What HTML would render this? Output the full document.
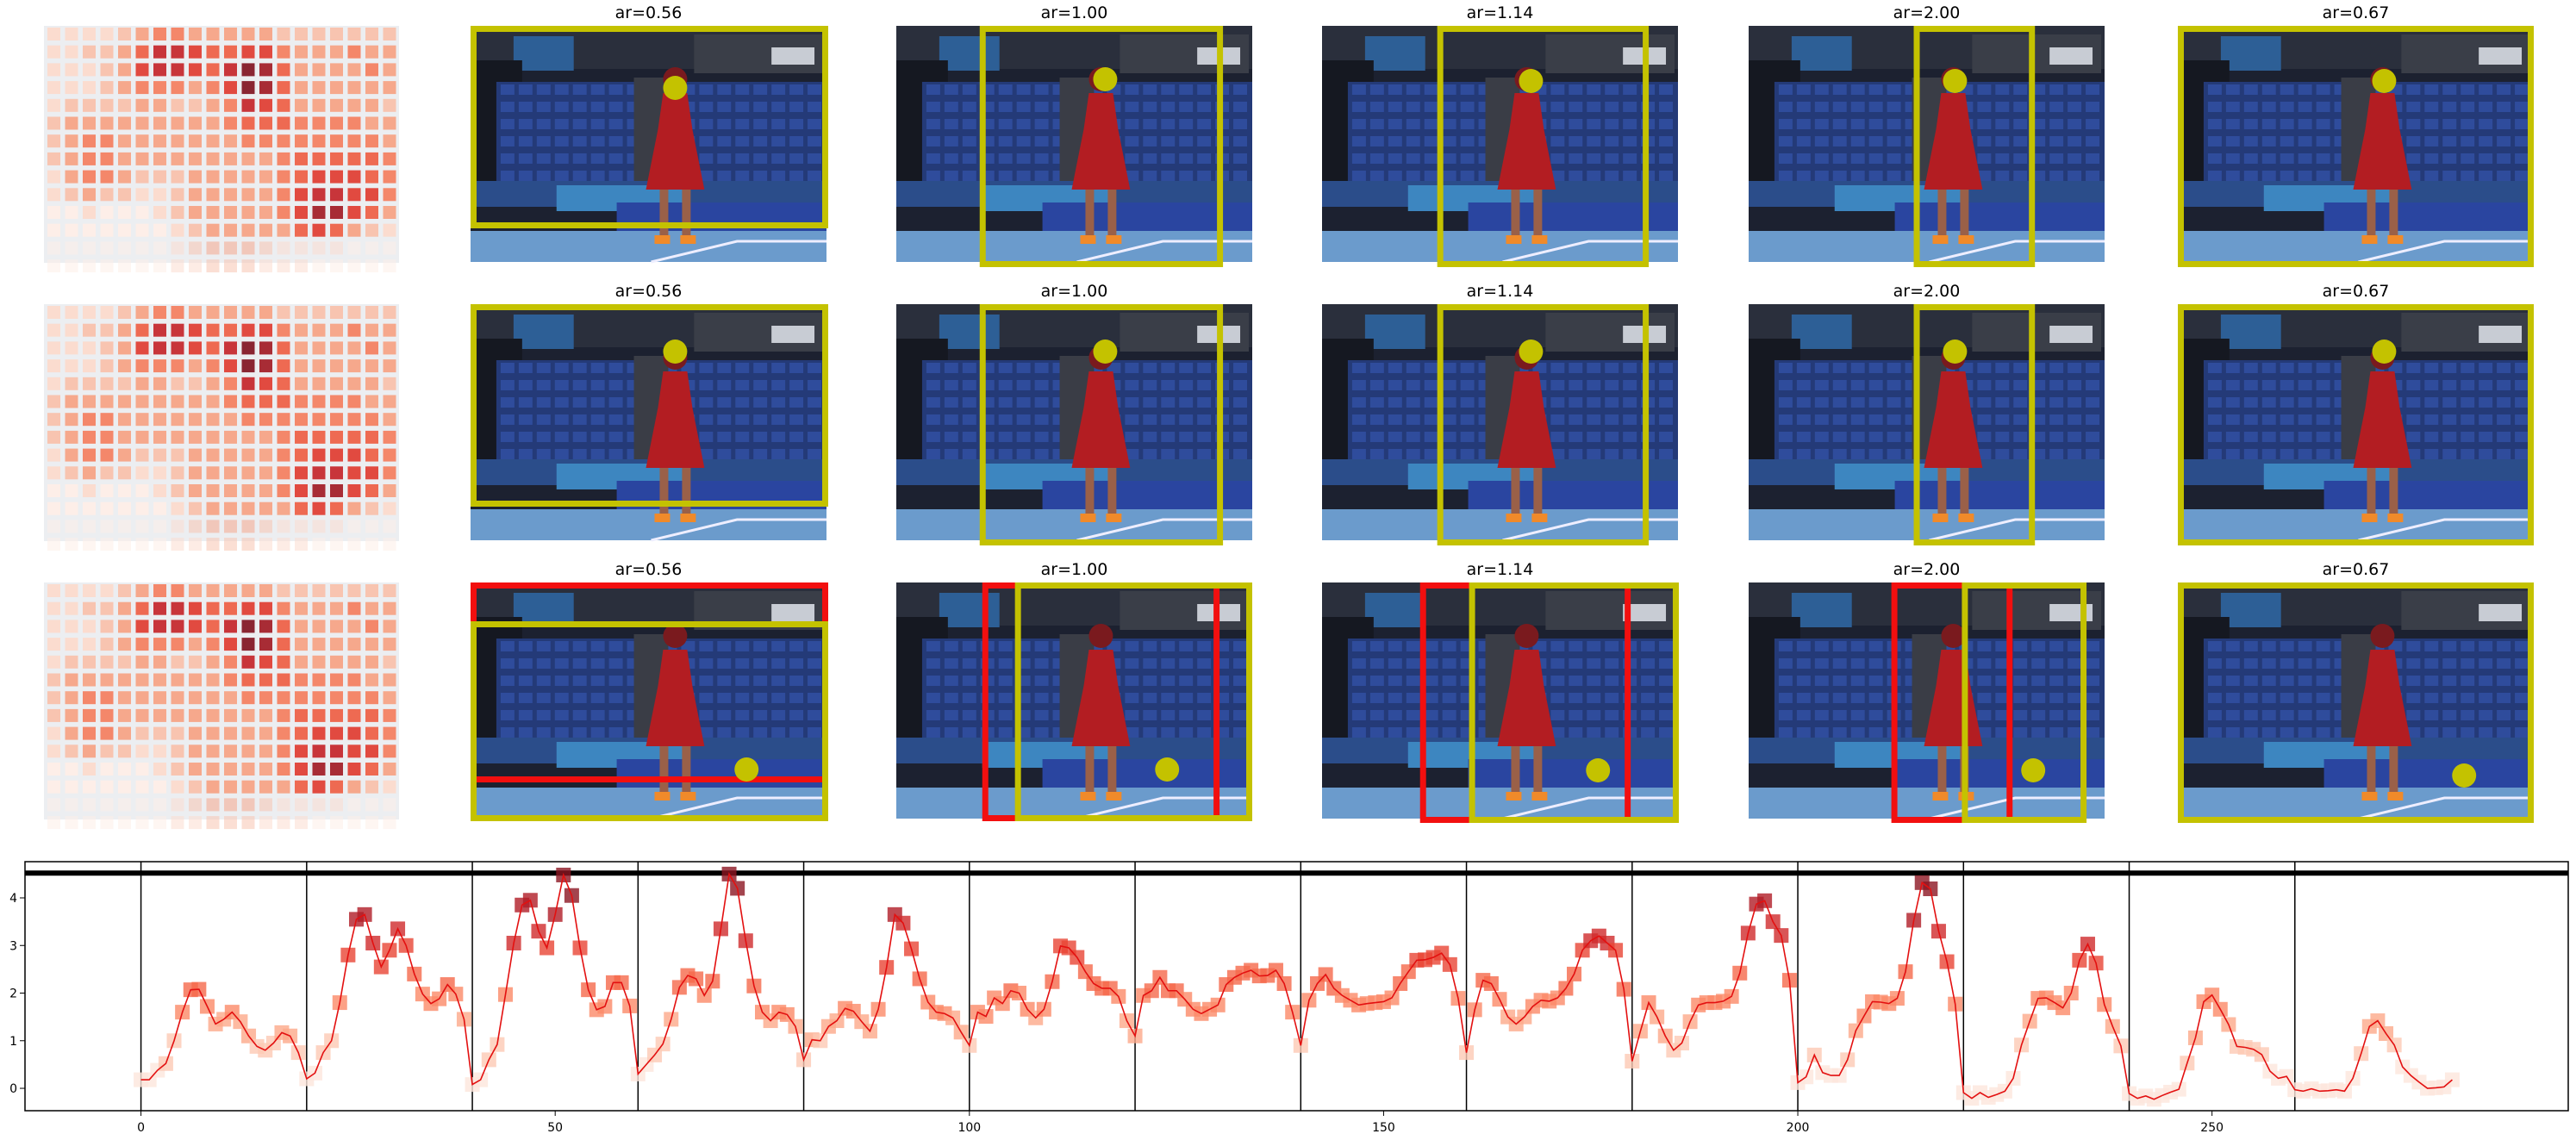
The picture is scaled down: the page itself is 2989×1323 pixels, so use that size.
<!DOCTYPE html>
<html><head><meta charset="utf-8">
<style>
html,body{margin:0;padding:0;background:#fff;}
#root{position:relative;width:2989px;height:1323px;overflow:hidden;font-family:"DejaVu Sans","Liberation Sans",sans-serif;}
</style></head>
<body>
<div id="root">
<svg id="gridsvg" width="2989" height="990" style="position:absolute;left:0;top:0"></svg>
<svg id="chart" width="2989" height="333" style="position:absolute;left:0;top:990px"></svg>
</div>
<script>
// ---------- heatmap data (intensity 0-9) ----------
const heat = [
[1,1,1,1,2,3,4,4,3,3,3,3,3,2,2,2,2,2,2,2],
[1,1,2,2,3,5,7,7,6,5,5,6,6,4,3,3,3,4,3,3],
[1,1,1,2,3,6,7,7,6,5,7,9,8,5,3,3,3,3,4,3],
[1,1,1,2,3,4,4,4,3,4,6,9,8,5,3,3,3,3,3,3],
[1,2,2,2,2,3,3,2,2,3,4,7,6,5,3,3,3,3,3,2],
[2,3,3,3,3,3,3,3,3,3,4,5,5,5,4,4,4,4,3,3],
[2,3,4,4,3,3,3,3,3,3,3,4,4,4,4,4,4,4,4,3],
[2,3,4,4,3,3,3,3,3,3,3,3,3,4,5,5,5,5,5,4],
[1,3,4,4,3,2,2,2,3,3,3,3,3,4,5,6,6,6,5,4],
[1,2,3,2,2,1,1,2,3,3,3,3,3,4,6,7,7,6,6,4],
[0,0,1,0,0,0,1,2,3,3,3,3,3,4,6,8,8,6,5,3],
[0,0,0,0,0,0,0,1,2,3,3,3,3,3,5,6,5,3,2,1],
[0,0,0,0,0,0,0,1,2,3,3,3,2,1,1,1,1,0,0,0],
[0,0,0,0,0,0,0,1,1,2,2,2,1,1,1,0,0,0,0,0]];
const heatPalette=['#fdeee8','#fbdccf','#f8c4b0','#f6a88c','#f4876a','#ee6a52','#e14a40','#c8353a','#a82c35','#8a2532'];
const arLabels=['ar=0.56','ar=1.00','ar=1.14','ar=2.00','ar=0.67'];
const yellowBoxes=[
 [[0,0,416,235],[97,0,380,280],[134,0,380,280],[192,0,333,280],[0,0,414,280]],
 [[0,0,416,235],[97,0,380,280],[134,0,380,280],[192,0,333,280],[0,0,414,280]],
 [[0,45,416,277],[138,0,414,277],[171,0,415,279],[248,0,393,279],[0,0,414,279]]];
const redBoxes=[null,null,[[0,0,416,232],[100,0,376,277],[114,0,359,279],[166,0,307,279],null]];
const circles=[[[238,72],[243,62],[243,64],[240,64],[240,64]],[[238,55],[243,55],[243,55],[240,55],[240,55]],[[321,217],[315,217],[321,218],[331,218],[333,224]]];

const NS='http://www.w3.org/2000/svg';
function mk(tag,attrs,parent){const e=document.createElementNS(NS,tag);for(const k in attrs)e.setAttribute(k,attrs[k]);if(parent)parent.appendChild(e);return e;}
const gridSvg=document.getElementById('gridsvg');
const rowTops=[30,353,676];
const colLefts=[546,1040,1534,2029,2527];
const PW=413,PH=274;

function drawPhoto(g){
 mk('rect',{x:0,y:0,width:414,height:274,fill:'#1c2130'},g);
 mk('rect',{x:0,y:0,width:414,height:50,fill:'#2a2f3c'},g);
 mk('rect',{x:50,y:12,width:70,height:40,fill:'#2d5f96'},g);
 mk('rect',{x:260,y:10,width:150,height:45,fill:'#3a3e48'},g);
 mk('rect',{x:350,y:25,width:50,height:20,fill:'#c8ccd4'},g);
 mk('rect',{x:0,y:40,width:60,height:150,fill:'#151821'},g);
 mk('rect',{x:30,y:65,width:384,height:130,fill:'#243a78'},g);
 for(let r=0;r<6;r++){for(let c=0;c<18;c++){mk('rect',{x:35+c*21,y:68+r*20,width:16,height:12,fill:'#2f4c9c'},g);}}
 mk('rect',{x:190,y:60,width:40,height:130,fill:'#3a3d46'},g);
 mk('rect',{x:0,y:180,width:414,height:30,fill:'#2b4d8a'},g);
 mk('rect',{x:100,y:185,width:150,height:30,fill:'#3d86c0'},g);
 mk('rect',{x:170,y:205,width:244,height:35,fill:'#2a45a0'},g);
 mk('rect',{x:0,y:238,width:414,height:36,fill:'#6b9bcc'},g);
 mk('path',{d:'M210 274 L310 250 L414 250',stroke:'#eef',fill:'none','stroke-width':3},g);
 mk('circle',{cx:238,cy:62,r:14,fill:'#7a1a1e'},g);
 mk('path',{d:'M224 78 L252 78 L258 120 L272 190 L204 190 L218 120 Z',fill:'#b31d22'},g);
 mk('rect',{x:220,y:190,width:10,height:55,fill:'#9a6048'},g);
 mk('rect',{x:246,y:190,width:10,height:55,fill:'#9a6048'},g);
 mk('rect',{x:214,y:243,width:18,height:10,fill:'#f08a2a'},g);
 mk('rect',{x:244,y:243,width:18,height:10,fill:'#f08a2a'},g);
}

for(let r=0;r<3;r++){
 const hg=mk('g',{transform:`translate(0,${rowTops[r]})`},gridSvg);
 
 
 mk('rect',{x:51,y:0,width:412,height:275,fill:'#eceef1'},hg);
 heat.forEach((row,i)=>row.forEach((v,j)=>{
   const c=mk('rect',{x:55+j*20.5,y:2+i*20.7,width:15,height:15,fill:heatPalette[v],opacity:i>=12?0.55:1},hg);
   
   
 }));
 for(let c=0;c<5;c++){
  const L=colLefts[c],T=rowTops[r];
  const g=mk('g',{transform:`translate(${L},${T}) scale(${PW/414},1)`},gridSvg);
  
  
  drawPhoto(g);
  const rb=redBoxes[r]&&redBoxes[r][c];
  if(rb){const e=mk('rect',{x:rb[0]+3.5,y:rb[1]+3.5,width:rb[2]-rb[0]-7,height:rb[3]-rb[1]-7,fill:'none',stroke:'#f20f0f','stroke-width':7},g);
   
   }
  const yb=yellowBoxes[r][c];
  const ye=mk('rect',{x:yb[0]+3.5,y:yb[1]+3.5,width:yb[2]-yb[0]-7,height:yb[3]-yb[1]-7,fill:'none',stroke:'#c4c200','stroke-width':7},g);
  
  
  const ci=circles[r][c];
  const ce=mk('ellipse',{cx:ci[0],cy:ci[1],rx:14,ry:14,fill:'#c4c200'},g);
  
  
  const t=mk('text',{x:L+PW/2,y:T-9,'text-anchor':'middle','font-size':19,fill:'#000','font-family':'DejaVu Sans, Liberation Sans, sans-serif'},gridSvg);
  t.textContent=arLabels[c];
  
  
 }
}

// ---------- line chart data ----------
const scores=[
0.18,0.18,0.38,0.52,1.0,1.6,2.07,2.08,1.72,1.35,1.45,1.6,1.4,1.1,0.88,0.8,0.95,1.17,1.1,0.75,
0.2,0.32,0.75,1.0,1.8,2.8,3.55,3.65,3.05,2.55,2.9,3.35,3.0,2.4,1.98,1.78,1.88,2.18,1.98,1.45,
0.08,0.18,0.6,0.92,1.97,3.05,3.85,3.95,3.3,2.95,3.65,4.48,4.05,2.95,2.07,1.65,1.72,2.22,2.22,1.73,
0.3,0.5,0.7,0.93,1.45,2.12,2.37,2.3,1.95,2.25,3.35,4.5,4.2,3.1,2.15,1.6,1.42,1.6,1.55,1.3,
0.6,1.02,1.0,1.3,1.42,1.68,1.62,1.4,1.2,1.66,2.54,3.65,3.47,2.93,2.3,1.81,1.6,1.57,1.48,1.18,
0.9,1.6,1.51,1.9,1.78,2.05,2.0,1.66,1.48,1.66,2.24,2.99,2.95,2.75,2.45,2.2,2.1,2.1,1.93,1.42,
1.1,1.95,2.05,2.33,2.05,2.05,1.87,1.66,1.57,1.66,1.75,2.18,2.33,2.42,2.48,2.36,2.37,2.48,2.2,1.6,
0.9,1.85,2.2,2.39,2.1,1.95,1.85,1.75,1.78,1.8,1.82,1.9,2.2,2.45,2.69,2.7,2.75,2.84,2.6,1.89,
0.75,1.65,2.27,2.2,1.87,1.5,1.35,1.5,1.72,1.85,1.83,1.9,2.1,2.4,2.9,3.1,3.2,3.05,2.9,2.08,
0.57,1.2,1.8,1.5,1.1,0.8,0.95,1.4,1.75,1.8,1.8,1.83,1.93,2.42,3.26,3.87,3.94,3.5,3.21,2.27,
0.12,0.24,0.7,0.33,0.27,0.27,0.6,1.21,1.52,1.82,1.81,1.78,1.89,2.45,3.53,4.32,4.19,3.3,2.66,1.77,
-0.09,-0.21,-0.09,-0.19,-0.13,-0.06,0.21,0.91,1.41,1.89,1.9,1.8,1.69,2.0,2.69,3.03,2.63,1.76,1.3,0.89,
-0.11,-0.21,-0.16,-0.23,-0.15,-0.08,-0.02,0.53,1.06,1.82,1.96,1.66,1.34,0.88,0.86,0.82,0.71,0.36,0.21,0.25,
-0.03,-0.06,-0.01,-0.06,-0.05,-0.03,-0.06,0.21,0.73,1.3,1.42,1.15,0.91,0.45,0.27,0.13,0,0.01,0.03,0.18];
const xTicks=[0,50,100,150,200,250];
const yTicks=[0,1,2,3,4];
const segBounds=[0,20,40,60,80,100,120,140,160,180,200,220,240,260];
const thresholdValue=[4.52];

const ch=document.getElementById('chart');
const X0=29,X1=2980,Y0=10,Y1=299;
const xmin=-14,xmax=293,ymin=-0.47,ymax=4.76;
const sx=v=>X0+(v-xmin)/(xmax-xmin)*(X1-X0);
const sy=v=>Y1-(v-ymin)/(ymax-ymin)*(Y1-Y0);
const reds=['#fde6dc','#fcc9b4','#fca98a','#fb8a68','#f5694b','#e84535','#cf2a2c','#b01d27','#8c1522'];
function col(v){let t=Math.max(0,Math.min(1,v/4.5));return reds[Math.min(8,Math.floor(t*8.99))];}

segBounds.forEach(b=>{const l=mk('line',{x1:sx(b),x2:sx(b),y1:Y0,y2:Y1,stroke:'#000','stroke-width':1.5},ch);
 
 });
thresholdValue.forEach(v=>{const l=mk('line',{x1:X0,x2:X1,y1:sy(v),y2:sy(v),stroke:'#000','stroke-width':6},ch);
 
 });
scores.forEach((v,i)=>{const m=mk('rect',{x:sx(i)-8.5,y:sy(v)-8.5,width:17,height:17,fill:col(v),opacity:0.8},ch);
 
 });
const pl=mk('polyline',{points:scores.map((v,i)=>sx(i)+','+sy(v)).join(' '),fill:'none',stroke:'#e31010','stroke-width':1.6},ch);


const fr=mk('rect',{x:X0,y:Y0,width:X1-X0,height:Y1-Y0,fill:'none',stroke:'#000','stroke-width':1.5},ch);


xTicks.forEach(t=>{mk('line',{x1:sx(t),x2:sx(t),y1:Y1,y2:Y1+6,stroke:'#000','stroke-width':1},ch);
 const tx=mk('text',{x:sx(t),y:Y1+24,'text-anchor':'middle','font-size':14,'font-family':'DejaVu Sans, sans-serif'},ch);tx.textContent=t;
 
 });
yTicks.forEach(t=>{mk('line',{x1:X0-6,x2:X0,y1:sy(t),y2:sy(t),stroke:'#000','stroke-width':1},ch);
 const tx=mk('text',{x:X0-9,y:sy(t)+5,'text-anchor':'end','font-size':14,'font-family':'DejaVu Sans, sans-serif'},ch);tx.textContent=t;
 
 });
</script>
</body></html>
